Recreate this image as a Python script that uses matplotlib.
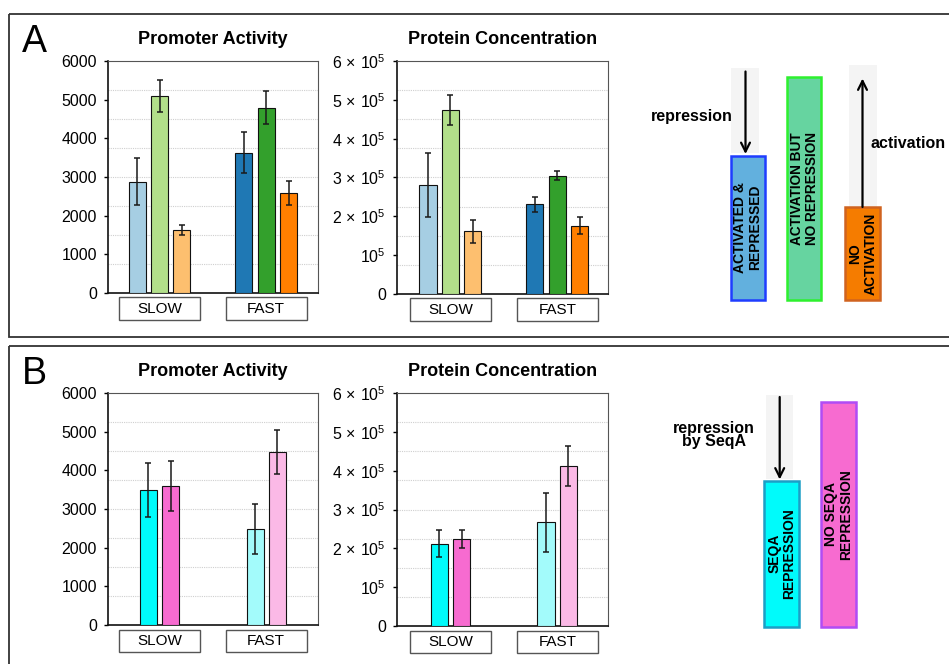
import numpy as np
import matplotlib
matplotlib.use("Agg")
import matplotlib.pyplot as plt
from matplotlib.patches import Rectangle
import matplotlib.transforms as mtrans

plt.rcParams['font.family'] = ['Liberation Sans', 'DejaVu Sans']
plt.rcParams['mathtext.fontset'] = 'custom'
plt.rcParams['mathtext.rm'] = 'Liberation Sans'
plt.rcParams['mathtext.it'] = 'Liberation Sans:italic'
plt.rcParams['mathtext.bf'] = 'Liberation Sans:bold'

# ---------------- data ----------------
categories = ['SLOW', 'FAST']

# Panel A - promoter activity (a.u.)
A_pa_actrep = [2880, 3630]
A_pa_actrep_err = [605, 535]
A_pa_actnorep = [5090, 4790]
A_pa_actnorep_err = [415, 430]
A_pa_noact = [1620, 2590]
A_pa_noact_err = [130, 315]

# Panel A - protein concentration
A_pc_actrep = [2.80e5, 2.31e5]
A_pc_actrep_err = [0.82e5, 0.20e5]
A_pc_actnorep = [4.74e5, 3.05e5]
A_pc_actnorep_err = [0.39e5, 0.12e5]
A_pc_noact = [1.61e5, 1.76e5]
A_pc_noact_err = [0.30e5, 0.215e5]

# Panel B - promoter activity
B_pa_seqa = [3500, 2480]
B_pa_seqa_err = [700, 645]
B_pa_noseqa = [3590, 4480]
B_pa_noseqa_err = [645, 570]

# Panel B - protein concentration
B_pc_seqa = [2.12e5, 2.67e5]
B_pc_seqa_err = [0.34e5, 0.755e5]
B_pc_noseqa = [2.245e5, 4.12e5]
B_pc_noseqa_err = [0.225e5, 0.52e5]

pa_ticks = [0, 1000, 2000, 3000, 4000, 5000, 6000]
pa_ticklabels = ['0', '1000', '2000', '3000', '4000', '5000', '6000']
pc_ticks = [0, 1e5, 2e5, 3e5, 4e5, 5e5, 6e5]
pc_ticklabels = ['0', r'$10^{5}$', r'$2\,\times\,10^{5}$', r'$3\,\times\,10^{5}$',
                 r'$4\,\times\,10^{5}$', r'$5\,\times\,10^{5}$', r'$6\,\times\,10^{5}$']

# colours (light for SLOW, dark for FAST)
col_actrep = ['#a6cee3', '#1f78b4']
col_actnorep = ['#b2df8a', '#33a02c']
col_noact = ['#fdbf6f', '#ff7f00']
col_seqa = ['#00fbfb', '#a3fbfb']
col_noseqa = ['#f76bd0', '#fbb9e6']

# ---------------- layout ----------------
W, H = 949, 664
fig = plt.figure(figsize=(W / 100, H / 100), dpi=100)


def rect(l, t, r, b):
    return [l / W, 1 - b / H, (r - l) / W, (b - t) / H]


# background drawing axes in pixel coordinates
axd = fig.add_axes([0, 0, 1, 1])
axd.set_xlim(0, W)
axd.set_ylim(H, 0)
axd.axis('off')

# panel frames
axd.add_patch(Rectangle((9, 13.5), 960, 323.5, fill=False, ec='#333333', lw=1.3, clip_on=False))
axd.add_patch(Rectangle((9, 346), 960, 340, fill=False, ec='#333333', lw=1.3, clip_on=False))
axd.text(22, 52.5, 'A', fontsize=27, ha='left', va='baseline')
axd.text(22, 384, 'B', fontsize=27, ha='left', va='baseline')


def bar_panel(box, title, series, colors, errs, ticks, ticklabels, xlim, tfs):
    ax = fig.add_axes(rect(*box))
    n = len(series)
    width = 0.16
    step = 0.21
    x = np.arange(len(categories))
    for i, (vals, cols, err) in enumerate(zip(series, colors, errs)):
        off = (i - (n - 1) / 2) * step
        ax.bar(x + off, vals, width=width, color=cols, edgecolor='#111111', lw=0.8, zorder=3)
        ax.errorbar(x + off, vals, yerr=err, fmt='none', ecolor='#1a1a1a',
                    elinewidth=1.1, capsize=2.3, capthick=1.1, zorder=4)
    top = ticks[-1]
    for g in np.arange(0.125, 1.0, 0.125) * top:
        ax.axhline(g, color='#cfcfcf', lw=0.8, ls=(0, (1, 1)), zorder=1)
    ax.set_ylim(0, top)
    ax.set_xlim(*xlim)
    ax.set_yticks(ticks)
    ax.set_yticklabels(ticklabels, fontsize=tfs)
    ax.tick_params(axis='y', length=3, width=1, direction='out', pad=5)
    ax.set_xticks([])
    ax.spines['left'].set_color('#111111')
    ax.spines['bottom'].set_color('#111111')
    ax.spines['left'].set_linewidth(1.2)
    ax.spines['bottom'].set_linewidth(1.2)
    ax.spines['top'].set_color('#555555')
    ax.spines['right'].set_color('#555555')
    ax.set_title(title, fontsize=13, fontweight='bold', pad=12)
    # category boxes below the axis
    hpx = (box[3] - box[1])
    tr = mtrans.blended_transform_factory(ax.transData, ax.transAxes)
    y0 = -(4.5 + 22.5) / hpx
    hh = 22.5 / hpx
    for xi, cat in zip(x, categories):
        ax.add_patch(Rectangle((xi - 0.38, y0), 0.76, hh, transform=tr, clip_on=False,
                               fc='white', ec='#555555', lw=1.0))
        ax.text(xi, y0 + hh / 2, cat, transform=tr, ha='center', va='center', fontsize=11)
    return ax


bar_panel((108, 61, 318, 293), 'Promoter Activity',
          [A_pa_actrep, A_pa_actnorep, A_pa_noact],
          [col_actrep, col_actnorep, col_noact],
          [A_pa_actrep_err, A_pa_actnorep_err, A_pa_noact_err],
          pa_ticks, pa_ticklabels, (-0.483, 1.485), 11.5)
bar_panel((397, 61, 608, 294), 'Protein Concentration',
          [A_pc_actrep, A_pc_actnorep, A_pc_noact],
          [col_actrep, col_actnorep, col_noact],
          [A_pc_actrep_err, A_pc_actnorep_err, A_pc_noact_err],
          pc_ticks, pc_ticklabels, (-0.50, 1.475), 11.5)
bar_panel((108, 393, 318, 625), 'Promoter Activity',
          [B_pa_seqa, B_pa_noseqa],
          [col_seqa, col_noseqa],
          [B_pa_seqa_err, B_pa_noseqa_err],
          pa_ticks, pa_ticklabels, (-0.483, 1.485), 11.5)
bar_panel((397, 393, 608, 626), 'Protein Concentration',
          [B_pc_seqa, B_pc_noseqa],
          [col_seqa, col_noseqa],
          [B_pc_seqa_err, B_pc_noseqa_err],
          pc_ticks, pc_ticklabels, (-0.50, 1.475), 11.5)

# ---------------- schematic diagrams ----------------
def arrow(x, y0, y1):
    axd.annotate('', xy=(x, y1), xytext=(x, y0),
                 arrowprops=dict(arrowstyle='->', lw=1.6, color='black',
                                 shrinkA=0, shrinkB=0, mutation_scale=16))


def box(l, t, r, b, fc, ec, label, fs):
    axd.add_patch(Rectangle((l, t), r - l, b - t, fc=fc, ec=ec, lw=1.8))
    axd.text((l + r) / 2, (t + b) / 2, label, rotation=90, ha='center', va='center',
             multialignment='center', fontsize=fs, fontweight='bold', linespacing=1.1)


# panel A diagram
axd.add_patch(Rectangle((731, 68), 28, 85, fc='#f4f4f4', ec='none'))
axd.add_patch(Rectangle((849, 65), 28, 142, fc='#f4f4f4', ec='none'))
box(731, 155.5, 765, 300, '#62b0de', '#1f3dff', 'ACTIVATED &\nREPRESSED', 10)
box(787, 77, 821.5, 300, '#66d4a0', '#2ef02e', 'ACTIVATION BUT\nNO REPRESSION', 9.8)
box(845.5, 207, 880.5, 300, '#f57c00', '#d0631f', 'NO\nACTIVATION', 10)
arrow(745.5, 71.5, 154)
arrow(862.5, 207, 78.5)
axd.text(692, 116, 'repression', fontsize=11.5, fontweight='bold', ha='center', va='center')
axd.text(908, 143, 'activation', fontsize=11.5, fontweight='bold', ha='center', va='center')

# panel B diagram
axd.add_patch(Rectangle((766, 395), 27.5, 84, fc='#f4f4f4', ec='none'))
box(764, 481, 799.5, 626.5, '#00fbfb', '#1c9fc6', 'SEQA\nREPRESSION', 10)
box(821, 402, 856, 626.5, '#f76bd0', '#b04cf5', 'NO SEQA\nREPRESSION', 10)
arrow(779.7, 397, 479.5)
axd.text(714, 435, 'repression\nby SeqA', fontsize=11.5, fontweight='bold', ha='center',
         va='center', multialignment='center', linespacing=0.85)

fig.savefig('out.png', dpi=100)
